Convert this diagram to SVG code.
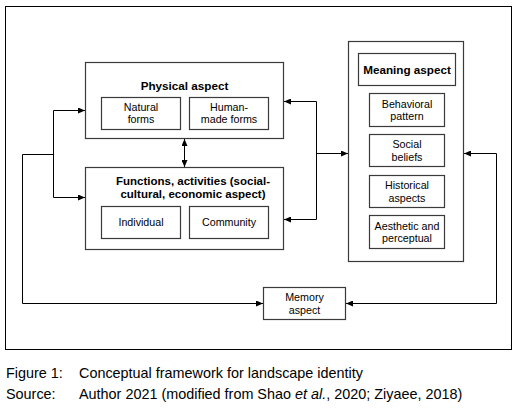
<svg xmlns="http://www.w3.org/2000/svg" width="516" height="409" viewBox="0 0 516 409">
<defs>
<marker id="ah" markerUnits="userSpaceOnUse" markerWidth="7" markerHeight="6" refX="7" refY="3" orient="auto-start-reverse">
<path d="M0,0 L7,3 L0,6 z" fill="#000"/>
</marker>
<style>
.frame{fill:#fff;stroke:#000;stroke-width:1}
.box{fill:#fff;stroke:#3a3a3a;stroke-width:1.2}
.ln{fill:none;stroke:#000;stroke-width:1}
.arr{fill:none;stroke:#000;stroke-width:1;marker-end:url(#ah)}
.t{font-family:"Liberation Sans",Arial,sans-serif;font-size:10.7px;fill:#000;text-anchor:middle}
.b{font-family:"Liberation Sans",Arial,sans-serif;font-size:11.7px;font-weight:bold;fill:#000;text-anchor:middle}
.b2{font-family:"Liberation Sans",Arial,sans-serif;font-size:11.5px;font-weight:bold;fill:#000;text-anchor:middle}
.cap{font-family:"Liberation Sans",Arial,sans-serif;font-size:14.4px;fill:#000}
</style>
</defs>
<rect x="0" y="0" width="516" height="409" fill="#fff"/>
<rect class="frame" x="5.5" y="6.5" width="506" height="343"/>

<g id="connectors">
<path class="ln" d="M22.5,154.5 H53.5"/>
<path class="ln" d="M53.5,110.5 V197.5"/>
<path class="arr" d="M53.5,110.5 H85"/>
<path class="arr" d="M53.5,197.5 H85"/>
<path class="arr" d="M22.5,154.5 V303.5 H263"/>
<path class="arr" d="M184.5,139 V167" style="marker-start:url(#ah)"/>
<path class="ln" d="M316.5,101.5 V219.5"/>
<path class="arr" d="M316.5,101.5 H284"/>
<path class="arr" d="M316.5,219.5 H284"/>
<path class="arr" d="M316.5,153.5 H348"/>
<path class="ln" d="M496.5,153.5 V303.5"/>
<path class="arr" d="M496.5,153.5 H464"/>
<path class="arr" d="M496.5,303.5 H346"/>
</g>

<g id="physical">
<rect class="box" x="85.5" y="62.5" width="198" height="76"/>
<text class="b" x="184.5" y="90">Physical aspect</text>
</g>
<g id="natural">
<rect class="box" x="101.5" y="97.5" width="79" height="32"/>
<text class="t" x="141" y="111">Natural</text>
<text class="t" x="141" y="123">forms</text>
</g>
<g id="humanmade">
<rect class="box" x="189.5" y="97.5" width="79" height="32"/>
<text class="t" x="229" y="111">Human-</text>
<text class="t" x="229" y="123">made forms</text>
</g>
<g id="functions">
<rect class="box" x="85.5" y="167.5" width="198" height="82"/>
<text class="b2" x="193" y="185">Functions, activities (social-</text>
<text class="b2" x="193" y="197.5">cultural, economic aspect)</text>
</g>
<g id="individual">
<rect class="box" x="101.5" y="206.5" width="79" height="32"/>
<text class="t" x="141" y="226">Individual</text>
</g>
<g id="community">
<rect class="box" x="189.5" y="206.5" width="79" height="32"/>
<text class="t" x="229" y="226">Community</text>
</g>
<g id="meaning">
<rect class="box" x="348.5" y="41.5" width="115" height="220"/>
</g>
<g id="meaning-title">
<rect class="box" x="358.5" y="53.5" width="97" height="32"/>
<text class="b" x="407" y="73.5">Meaning aspect</text>
</g>
<g id="behavioral">
<rect class="box" x="369.5" y="93.5" width="75" height="33"/>
<text class="t" x="407" y="107.5">Behavioral</text>
<text class="t" x="407" y="120">pattern</text>
</g>
<g id="social">
<rect class="box" x="369.5" y="134.5" width="75" height="32"/>
<text class="t" x="407" y="148">Social</text>
<text class="t" x="407" y="160.5">beliefs</text>
</g>
<g id="historical">
<rect class="box" x="369.5" y="175.5" width="75" height="32"/>
<text class="t" x="407" y="189">Historical</text>
<text class="t" x="407" y="201.5">aspects</text>
</g>
<g id="aesthetic">
<rect class="box" x="369.5" y="215.5" width="75" height="33"/>
<text class="t" x="407" y="229.5">Aesthetic and</text>
<text class="t" x="407" y="242">perceptual</text>
</g>
<g id="memory">
<rect class="box" x="263.5" y="287.5" width="82" height="32"/>
<text class="t" x="304.5" y="301">Memory</text>
<text class="t" x="304.5" y="314">aspect</text>
</g>

<g id="caption">
<text class="cap" x="6" y="378">Figure 1:</text>
<text class="cap" x="79" y="378">Conceptual framework for landscape identity</text>
<text class="cap" x="6" y="399">Source:</text>
<text class="cap" x="79" y="399">Author 2021 (modified from Shao <tspan font-style="italic">et al.</tspan>, 2020; Ziyaee, 2018)</text>
</g>
</svg>
